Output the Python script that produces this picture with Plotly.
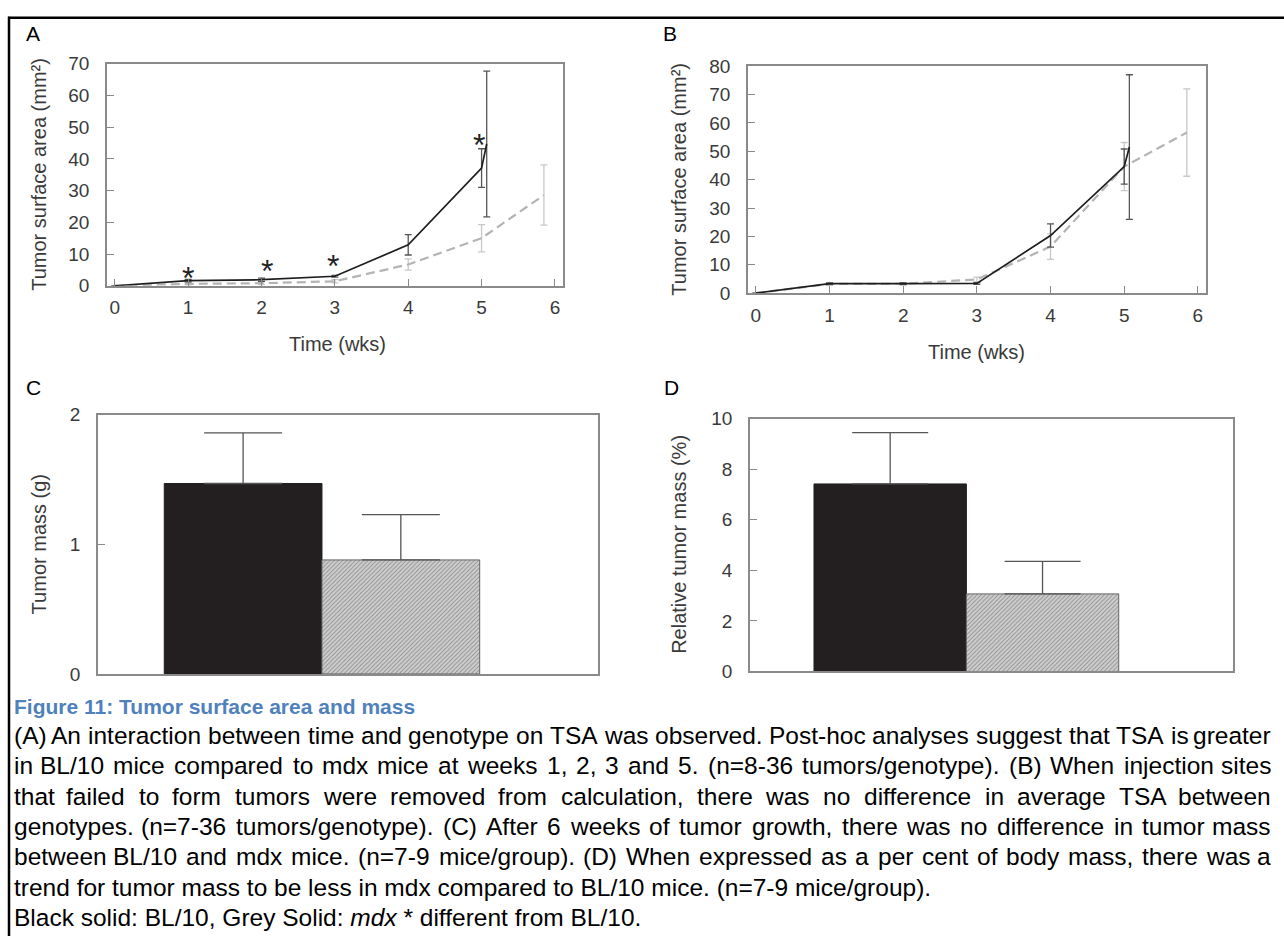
import plotly.graph_objects as go

W, H = 1284, 947

# ---------------- data ----------------
weeks_a_bl10 = [0, 1, 2, 3, 4, 5, 5.07]
tsa_a_bl10 = [0, 1.6, 1.9, 3.0, 12.9, 37.1, 44.7]
err_a_bl10 = [None, 0.4, 0.5, 0.3, 3.2, 6.1, 23.0]
weeks_a_mdx = [0, 1, 2, 3, 4, 5, 5.85]
tsa_a_mdx = [0, 0.6, 0.8, 1.4, 6.7, 15.0, 28.6]
err_a_mdx = [None, 0.3, 0.4, 0.5, 1.8, 4.3, 9.5]
star_x = [1, 2.08, 2.97, 4.96]
star_y = [5.1, 7.1, 8.6, 46.8]

weeks_b_bl10 = [0, 1, 2, 3, 4, 5, 5.07]
tsa_b_bl10 = [0, 3.3, 3.3, 3.4, 20.3, 44.6, 51.5]
err_b_bl10 = [None, 0.3, 0.3, 0.3, 4.1, 6.2, 25.5]
weeks_b_mdx = [0, 1, 2, 3, 4, 5, 5.85]
tsa_b_mdx = [0, 3.2, 3.3, 4.8, 16.4, 44.6, 56.6]
err_b_mdx = [None, 0.3, 0.3, 0.8, 4.5, 8.5, 15.4]

week_ticks = [0, 1, 2, 3, 4, 5, 6]
groups = ["BL/10", "mdx"]
group_pos = [0, 1]
mass_g = [1.47, 0.88]
mass_err = [0.39, 0.35]
rel_mass = [7.42, 3.07]
rel_err = [2.03, 1.29]

caption_title = "Figure 11: Tumor surface area and mass"
caption_justified = [
    "(A) An interaction between time and genotype on TSA was observed. Post-hoc analyses suggest that TSA is greater",
    "in BL/10 mice compared to mdx mice at weeks 1, 2, 3 and 5. (n=8-36 tumors/genotype). (B) When injection sites",
    "that failed to form tumors were removed from calculation, there was no difference in average TSA between",
    "genotypes. (n=7-36 tumors/genotype). (C) After 6 weeks of tumor growth, there was no difference in tumor mass",
    "between BL/10 and mdx mice. (n=7-9 mice/group). (D) When expressed as a per cent of body mass, there was a",
]
caption_plain = [
    "trend for tumor mass to be less in mdx compared to BL/10 mice. (n=7-9 mice/group).",
    "Black solid: BL/10, Grey Solid: <i>mdx</i> * different from BL/10.",
]

# ---------------- helpers ----------------
def xd(l, r):
    return [l / W, r / W]

def yd(t, b):
    return [1 - b / H, 1 - t / H]

AX_FONT = "Liberation Sans, Arial, sans-serif"
AX_COL = "#8a8a8a"
TXT_COL = "#3a3a3a"

fig = go.Figure()

GREY_LINE = dict(color="#b4b4b4", width=2.2, dash="9px,5px")
BLACK_LINE = dict(color="#1e1e1e", width=1.7)
GREY_ERR = dict(type="data", color="#c8c8c8", thickness=1.3, width=3.5)
BLACK_ERR = dict(type="data", color="#555555", thickness=1.3, width=3.5)

# Panel A
fig.add_trace(go.Scatter(x=weeks_a_mdx, y=tsa_a_mdx, mode="lines", name="mdx", line=GREY_LINE,
                         error_y=dict(array=err_a_mdx, **GREY_ERR),
                         xaxis="x", yaxis="y", showlegend=False))
fig.add_trace(go.Scatter(x=weeks_a_bl10, y=tsa_a_bl10, mode="lines", name="BL/10", line=BLACK_LINE,
                         error_y=dict(array=err_a_bl10, **BLACK_ERR),
                         xaxis="x", yaxis="y", showlegend=False))

# Panel B
fig.add_trace(go.Scatter(x=weeks_b_mdx, y=tsa_b_mdx, mode="lines", name="mdx", line=GREY_LINE,
                         error_y=dict(array=err_b_mdx, **GREY_ERR),
                         xaxis="x2", yaxis="y2", showlegend=False))
fig.add_trace(go.Scatter(x=weeks_b_bl10, y=tsa_b_bl10, mode="lines", name="BL/10", line=BLACK_LINE,
                         error_y=dict(array=err_b_bl10, **BLACK_ERR),
                         xaxis="x2", yaxis="y2", showlegend=False))

# Panels C and D bars
def add_bars(vals, errs, xa, ya, capw):
    fig.add_trace(go.Bar(x=[group_pos[0]], y=[vals[0]], width=1, name=groups[0],
                         marker=dict(color="#231f20", line=dict(color="#231f20", width=1)),
                         error_y=dict(type="data", array=[errs[0]], arrayminus=[0], symmetric=False,
                                      color="#555555", thickness=1.3, width=capw),
                         xaxis=xa, yaxis=ya, showlegend=False))
    fig.add_trace(go.Bar(x=[group_pos[1]], y=[vals[1]], width=1, name=groups[1],
                         marker=dict(color="#c4c4c4", line=dict(color="#666666", width=1),
                                     pattern=dict(shape="/", fgcolor="#4a4a4a", bgcolor="#cfcfcf",
                                                  size=3, solidity=0.3)),
                         error_y=dict(type="data", array=[errs[1]], arrayminus=[0], symmetric=False,
                                      color="#555555", thickness=1.3, width=capw),
                         xaxis=xa, yaxis=ya, showlegend=False))

add_bars(mass_g, mass_err, "x3", "y3", 39)
add_bars(rel_mass, rel_err, "x4", "y4", 38)

common = dict(showline=True, linecolor=AX_COL, linewidth=1.5, mirror=True, showgrid=False,
              zeroline=False, ticks="inside", ticklen=7, tickcolor=AX_COL, tickwidth=1.3,
              tickfont=dict(family=AX_FONT, size=19, color=TXT_COL))

layout = dict(
    width=W, height=H, margin=dict(l=0, r=0, t=0, b=0),
    paper_bgcolor="white", plot_bgcolor="white", barmode="overlay",
    xaxis=dict(domain=xd(107, 563), range=[-0.106, 6.11], tickvals=week_ticks,
               ticklabelstandoff=4, anchor="y", **common),
    yaxis=dict(domain=yd(55, 282), range=[0, 70], dtick=10, ticklabelstandoff=12, anchor="x", **common),
    xaxis2=dict(domain=xd(748, 1206), range=[-0.106, 6.11], tickvals=week_ticks,
                ticklabelstandoff=4, anchor="y2", **common),
    yaxis2=dict(domain=yd(57.5, 289.5), range=[0, 80], dtick=10, ticklabelstandoff=12, anchor="x2", **common),
    xaxis3=dict(domain=xd(98, 598), range=[-0.92, 2.25], anchor="y3", **{**common, "ticks": ""},
                showticklabels=False),
    yaxis3=dict(domain=yd(414, 679), range=[0, 2], dtick=1, ticklabelstandoff=12, anchor="x3", **common),
    xaxis4=dict(domain=xd(750, 1233), range=[-0.92, 2.25], anchor="y4", **{**common, "ticks": ""},
                showticklabels=False),
    yaxis4=dict(domain=yd(418, 676.5), range=[0, 10], dtick=2, ticklabelstandoff=12, anchor="x4", **common),
)
fig.update_layout(**layout)

ann = []
# stars in panel A
for sx, sy in zip(star_x, star_y):
    ann.append(dict(x=sx, y=sy, xref="x", yref="y", text="*", showarrow=False, yshift=-8,
                    xanchor="center", yanchor="middle",
                    font=dict(family=AX_FONT, size=32, color="#222222")))

def pann(x, y, text, size, **kw):
    d = dict(x=x / W, y=1 - y / H, xref="paper", yref="paper", text=text, showarrow=False,
             xanchor="center", yanchor="middle",
             font=dict(family=kw.pop("family", AX_FONT), size=size, color=kw.pop("color", TXT_COL)))
    d.update(kw)
    ann.append(d)

# axis titles
pann(39, 168.5, "Tumor surface area (mm²)", 20, textangle=-90)
pann(679, 173.5, "Tumor surface area (mm²)", 20, textangle=-90)
pann(39, 546.5, "Tumor mass (g)", 20, textangle=-90)
pann(679, 547, "Relative tumor mass (%)", 20, textangle=-90)
pann(338, 342, "Time (wks)", 20)
pann(977, 350, "Time (wks)", 20)

# panel letters
for lx, ly, lt in [(33, 24, "A"), (670, 24, "B"), (33, 386, "C"), (672, 386, "D")]:
    pann(lx, ly, lt, 21, color="#000000", family="Liberation Sans, Arial")

# caption
ARIAL = {' ': 278, '!': 278, '"': 355, '#': 556, '$': 556, '%': 889, '&': 667, "'": 191, '(': 333, ')': 333,
         '*': 389, '+': 584, ',': 278, '-': 333, '.': 278, '/': 278, ':': 278, ';': 278, '<': 584, '=': 584,
         '>': 584, '?': 556, 'A': 667, 'B': 667, 'C': 722, 'D': 722, 'E': 667, 'F': 611, 'G': 778, 'H': 722,
         'I': 278, 'J': 500, 'K': 667, 'L': 556, 'M': 833, 'N': 722, 'O': 778, 'P': 667, 'Q': 778, 'R': 722,
         'S': 667, 'T': 611, 'U': 722, 'V': 667, 'W': 944, 'X': 667, 'Y': 667, 'Z': 611, 'a': 556, 'b': 556,
         'c': 500, 'd': 556, 'e': 556, 'f': 278, 'g': 556, 'h': 556, 'i': 222, 'j': 222, 'k': 500, 'l': 222,
         'm': 833, 'n': 556, 'o': 556, 'p': 556, 'q': 556, 'r': 333, 's': 500, 't': 278, 'u': 556, 'v': 500,
         'w': 722, 'x': 500, 'y': 500, 'z': 500}
for d in "0123456789":
    ARIAL[d] = 556

def em(s):
    return sum(ARIAL.get(c, 556) for c in s) / 1000.0

CAP_L, CAP_R = 12, 1273
cap_size = min((CAP_R - CAP_L) / em(l) for l in caption_justified)
CAP_FONT = "Liberation Sans, Arial, sans-serif"
line_y0, line_dy = 742, 31

pann(CAP_L, 712, "<b>" + caption_title + "</b>", 21, color="#4f81bd", family=CAP_FONT, xanchor="left")
for i, line in enumerate(caption_justified):
    ly = line_y0 + i * line_dy
    words = line.split(" ")
    widths = [em(w) * cap_size for w in words]
    gap = (CAP_R - CAP_L - sum(widths)) / (len(words) - 1)
    x = CAP_L
    for j, (w, ww) in enumerate(zip(words, widths)):
        if j == 0:
            pann(x, ly, w, cap_size, color="#000000", family=CAP_FONT, xanchor="left")
        elif j == len(words) - 1:
            pann(CAP_R, ly, w, cap_size, color="#000000", family=CAP_FONT, xanchor="right")
        else:
            pann(x + ww / 2, ly, w, cap_size, color="#000000", family=CAP_FONT, xanchor="center")
        x += ww + gap
for k, line in enumerate(caption_plain):
    ly = line_y0 + (len(caption_justified) + k) * line_dy
    pann(CAP_L, ly, line, cap_size, color="#000000", family=CAP_FONT, xanchor="left")

fig.update_layout(annotations=ann)

# page border (top and left)
fig.update_layout(shapes=[
    dict(type="line", xref="paper", yref="paper", x0=8 / W, x1=1, y0=1 - 8 / H, y1=1 - 8 / H,
         line=dict(color="black", width=2.5)),
    dict(type="line", xref="paper", yref="paper", x0=9 / W, x1=9 / W, y0=0, y1=1 - 7 / H,
         line=dict(color="black", width=2.5)),
])

fig.write_html("out.html")
